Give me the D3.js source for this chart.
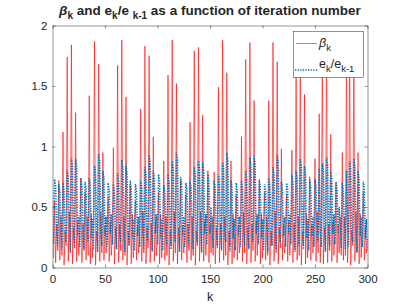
<!DOCTYPE html>
<html>
<head>
<meta charset="utf-8">
<script src="https://cdn.jsdelivr.net/npm/d3@7"></script>
<style>
  body { margin: 0; background: #fff; }
  text { font-family: "Liberation Sans", Arial, sans-serif; fill: #262626; }
</style>
</head>
<body>
<div id="chart"></div>
<script>
// beta_k, k = 1..300
var beta = [0.08,
  0.55,0.04,0.36,0.14, 0.72,0.06,0.42,0.10, 1.12,0.02,0.30,0.18, 1.74,0.05,0.46,0.12, 1.84,0.03,0.33,0.16,
  1.28,0.05,0.38,0.10,0.28, 0.74,0.04,0.36,0.14, 0.62,0.06,0.42,0.10,
  1.42,0.03,0.44,0.08,0.34, 1.87,0.02,0.30,0.18, 1.68,0.05,0.46,0.12,
  0.95,0.06,0.35,0.12,0.24, 0.58,0.05,0.38,0.10,0.28,
  0.99,0.03,0.33,0.16, 1.67,0.04,0.36,0.14, 1.88,0.06,0.42,0.10, 1.41,0.02,0.30,0.18,
  0.68,0.03,0.44,0.08,0.34, 0.55,0.06,0.35,0.12,0.24,
  1.31,0.05,0.46,0.12, 1.83,0.03,0.33,0.16, 1.75,0.04,0.36,0.14,
  1.08,0.05,0.38,0.10,0.28, 0.62,0.03,0.44,0.08,0.34,
  0.88,0.06,0.42,0.10, 1.59,0.02,0.30,0.18, 1.88,0.05,0.46,0.12, 1.52,0.03,0.33,0.16,
  0.72,0.06,0.35,0.12,0.24,
  0.60,0.04,0.36,0.14, 1.20,0.06,0.42,0.10, 1.79,0.02,0.30,0.18, 1.82,0.05,0.46,0.12,
  1.26,0.05,0.38,0.10,0.28,
  0.80,0.04,0.35,0.12,0.42,0.10,
  0.79,0.03,0.33,0.16, 1.49,0.04,0.36,0.14, 1.88,0.06,0.42,0.10, 1.61,0.02,0.30,0.18,
  0.88,0.03,0.44,0.08,0.34, 0.60,0.06,0.35,0.12,0.24,
  1.08,0.05,0.46,0.12, 1.72,0.03,0.33,0.16, 1.86,0.04,0.36,0.14,
  1.38,0.05,0.38,0.10,0.28, 0.73,0.03,0.44,0.08,0.34,
  0.62,0.06,0.42,0.10, 1.38,0.02,0.30,0.18, 1.86,0.05,0.46,0.12, 1.70,0.03,0.33,0.16,
  0.98,0.06,0.35,0.12,0.24, 0.60,0.05,0.38,0.10,0.28,
  0.97,0.04,0.36,0.14, 1.64,0.06,0.42,0.10, 1.89,0.02,0.30,0.18,
  1.43,0.03,0.44,0.08,0.34, 0.75,0.06,0.35,0.12,0.24,
  0.90,0.05,0.46,0.12, 1.27,0.04,0.32,
  1.85,0.03,0.33,0.16, 1.86,0.04,0.36,0.14,
  1.10,0.05,0.38,0.10,0.28, 0.70,0.04,0.35,0.12,0.42,0.10,
  0.95,0.06,0.42,0.10, 1.85,0.04,0.32, 1.87,0.02,0.30,0.18, 1.80,0.05,0.46,0.12,
  0.95,0.03,0.44,0.08,0.34, 0.62,0.06,0.35,0.12,0.24];

// e_k / e_(k-1), k = 1..300
var ratio = [0.20,
  0.73,0.67,0.30,0.18, 0.69,0.63,0.34,0.15, 0.70,0.64,0.27,0.21, 0.80,0.74,0.36,0.13, 0.90,0.84,0.30,0.20,
  0.90,0.84,0.26,0.42,0.17, 0.74,0.68,0.34,0.15, 0.71,0.65,0.27,0.21,
  0.74,0.68,0.24,0.40,0.14, 0.84,0.78,0.36,0.13, 0.94,0.88,0.30,0.18,
  0.80,0.74,0.26,0.42,0.17, 0.70,0.64,0.28,0.44,0.19,
  0.69,0.63,0.34,0.15, 0.78,0.72,0.27,0.21, 0.89,0.83,0.36,0.13, 0.84,0.78,0.30,0.18,
  0.72,0.66,0.24,0.40,0.14, 0.69,0.63,0.26,0.42,0.17,
  0.72,0.66,0.34,0.15, 0.83,0.77,0.27,0.21, 0.93,0.87,0.36,0.13,
  0.80,0.74,0.28,0.44,0.19, 0.77,0.71,0.24,0.40,0.14,
  0.68,0.62,0.30,0.18, 0.77,0.71,0.34,0.15, 0.88,0.82,0.27,0.21, 0.95,0.89,0.36,0.13,
  0.75,0.69,0.26,0.42,0.17,
  0.70,0.64,0.30,0.18, 0.72,0.66,0.34,0.15, 0.83,0.77,0.27,0.21, 0.88,0.82,0.36,0.13,
  0.87,0.81,0.28,0.44,0.19,
  0.77,0.71,0.28,0.50,0.34,0.16,
  0.72,0.66,0.30,0.18, 0.77,0.71,0.34,0.15, 0.87,0.81,0.27,0.21, 0.95,0.89,0.36,0.13,
  0.72,0.66,0.24,0.40,0.14, 0.70,0.64,0.26,0.42,0.17,
  0.72,0.66,0.30,0.18, 0.80,0.74,0.34,0.15, 0.91,0.85,0.27,0.21,
  0.92,0.86,0.28,0.44,0.19, 0.72,0.66,0.24,0.40,0.14,
  0.69,0.63,0.36,0.13, 0.74,0.68,0.30,0.18, 0.83,0.77,0.34,0.15, 0.93,0.87,0.27,0.21,
  0.71,0.65,0.26,0.42,0.17, 0.70,0.64,0.28,0.44,0.19,
  0.77,0.71,0.36,0.13, 0.80,0.74,0.30,0.18, 0.90,0.84,0.34,0.15,
  0.84,0.78,0.24,0.40,0.14, 0.72,0.66,0.26,0.42,0.17,
  0.73,0.67,0.27,0.21, 0.82,0.32,0.17,
  0.86,0.80,0.36,0.13, 0.91,0.85,0.30,0.18,
  0.80,0.74,0.28,0.44,0.19, 0.71,0.65,0.28,0.50,0.34,0.16,
  0.70,0.64,0.34,0.15, 0.80,0.32,0.17, 0.88,0.82,0.27,0.21, 0.90,0.84,0.36,0.13,
  0.80,0.74,0.26,0.42,0.17, 0.71,0.65,0.24,0.40,0.14];

var xTicks = [0, 50, 100, 150, 200, 250, 300];
var yTicks = [0, 0.5, 1, 1.5, 2];

var width = 407, height = 305;
var plotLeft = 52.5, plotRight = 367.5, plotTop = 25.5, plotBottom = 267.5;
var axisColor = "#262626";

var svg = d3.select("#chart").append("svg")
  .attr("width", width)
  .attr("height", height);

svg.append("rect").attr("width", width).attr("height", height).attr("fill", "#fff");

var x = d3.scaleLinear().domain([0, 300]).range([plotLeft, plotRight]);
var y = d3.scaleLinear().domain([0, 2]).range([plotBottom, plotTop]);

svg.append("clipPath").attr("id", "plotclip")
  .append("rect")
  .attr("x", plotLeft).attr("y", plotTop)
  .attr("width", plotRight - plotLeft).attr("height", plotBottom - plotTop);

var line = d3.line()
  .x(function(d, i) { return x(i + 1); })
  .y(function(d) { return y(d); });

var plot = svg.append("g").attr("clip-path", "url(#plotclip)");

plot.append("path")
  .datum(beta)
  .attr("d", line)
  .attr("fill", "none")
  .attr("stroke", "#ff0000")
  .attr("stroke-width", 0.6);

plot.append("path")
  .datum(ratio)
  .attr("d", line)
  .attr("fill", "none")
  .attr("stroke", "#0072bd")
  .attr("stroke-width", 1.5)
  .attr("stroke-dasharray", "1.3,1.3");

// axes, ticks inside on all four sides (matlab style)
function styleAxis(g) {
  g.selectAll("path, line").attr("stroke", axisColor).attr("stroke-width", 0.5);
  g.selectAll("text")
    .attr("fill", axisColor)
    .style("font-size", "11.5px")
    .style("font-family", "'Liberation Sans', Arial, sans-serif");
}

svg.append("g")
  .attr("transform", "translate(0," + plotBottom + ")")
  .call(d3.axisBottom(x).tickValues(xTicks).tickSizeInner(-3).tickSizeOuter(0).tickPadding(7))
  .call(styleAxis);

svg.append("g")
  .attr("transform", "translate(0," + plotTop + ")")
  .call(d3.axisTop(x).tickValues(xTicks).tickSizeInner(-3).tickSizeOuter(0).tickFormat(""))
  .call(styleAxis);

svg.append("g")
  .attr("transform", "translate(" + plotLeft + ",0)")
  .call(d3.axisLeft(y).tickValues(yTicks).tickSizeInner(-3).tickSizeOuter(0).tickPadding(5)
    .tickFormat(function(d) { return d3.format("")(d); }))
  .call(styleAxis);

svg.append("g")
  .attr("transform", "translate(" + plotRight + ",0)")
  .call(d3.axisRight(y).tickValues(yTicks).tickSizeInner(-3).tickSizeOuter(0).tickFormat(""))
  .call(styleAxis);

// x label
svg.append("text")
  .attr("x", (plotLeft + plotRight) / 2)
  .attr("y", 301)
  .attr("text-anchor", "middle")
  .style("font-size", "12.5px")
  .text("k");

// title
var title = svg.append("text")
  .attr("x", (plotLeft + plotRight) / 2)
  .attr("y", 15)
  .attr("text-anchor", "middle")
  .style("font-size", "13.5px")
  .style("font-weight", "bold");
title.append("tspan").style("font-style", "italic").text("β");
title.append("tspan").attr("dy", 4).style("font-size", "10px").text("k");
title.append("tspan").attr("dy", -4).text(" and e");
title.append("tspan").attr("dy", 4).style("font-size", "10px").text("k");
title.append("tspan").attr("dy", -4).text("/e ");
title.append("tspan").attr("dy", 4).style("font-size", "10px").text("k-1");
title.append("tspan").attr("dy", -4).text("  as a function of iteration number");

// legend
var legend = svg.append("g");
legend.append("rect")
  .attr("x", 293.5).attr("y", 31.5)
  .attr("width", 70).attr("height", 46)
  .attr("fill", "#fff")
  .attr("stroke", axisColor)
  .attr("stroke-width", 0.5);

legend.append("line")
  .attr("x1", 296).attr("x2", 317)
  .attr("y1", 43.5).attr("y2", 43.5)
  .attr("stroke", "#ff0000").attr("stroke-width", 0.6);
legend.append("line")
  .attr("x1", 295).attr("x2", 318)
  .attr("y1", 70).attr("y2", 70)
  .attr("stroke", "#0072bd").attr("stroke-width", 1.5)
  .attr("stroke-dasharray", "1.3,1.3");

var l1 = legend.append("text").attr("x", 319).attr("y", 47).style("font-size", "12.5px");
l1.append("tspan").style("font-style", "italic").text("β");
l1.append("tspan").attr("dy", 4).style("font-size", "9.5px").text("k");

var l2 = legend.append("text").attr("x", 319).attr("y", 68).style("font-size", "12.5px");
l2.append("tspan").text("e");
l2.append("tspan").attr("dy", 4).style("font-size", "9.5px").text("k");
l2.append("tspan").attr("dy", -4).text("/e");
l2.append("tspan").attr("dy", 4).style("font-size", "9.5px").text("k-1");
</script>
</body>
</html>
